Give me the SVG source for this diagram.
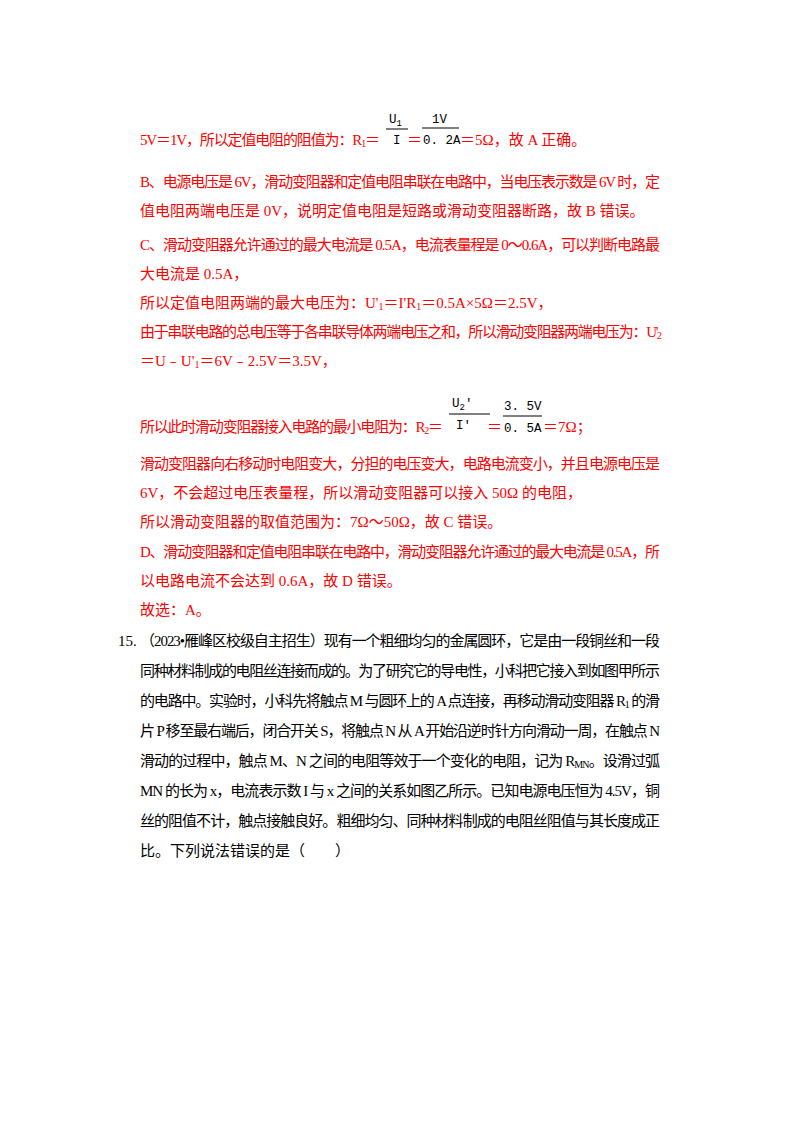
<svg xmlns="http://www.w3.org/2000/svg" width="800" height="1132" viewBox="0 0 800 1132">
<style>
text{font-family:"Liberation Serif","Noto Sans CJK SC",serif;font-size:15px}
.r{fill:#f00}
.k{fill:#000}
.f{font-family:"Liberation Mono","Noto Sans CJK SC",monospace;font-size:12.5px;fill:#000}
line{stroke:#000;stroke-width:1}
</style>
<rect width="800" height="1132" fill="#fff"/>
<g id="solution">
<text class="r" x="140" y="145" textLength="240">5V＝1V，所以定值电阻的阻值为：R<tspan font-size="10" dy="2">1</tspan><tspan dy="-2">＝</tspan></text>
<text class="f" x="389" y="123">U<tspan font-size="9" dy="3">1</tspan></text>
<line x1="386" y1="129" x2="408" y2="129"/>
<text class="f" x="393" y="144">I</text>
<text class="r" x="407" y="145">＝</text>
<text class="f" x="432" y="123">1V</text>
<line x1="422" y1="128" x2="459" y2="128"/>
<text class="f" x="423" y="144">0. 2A</text>
<text class="r" x="460" y="145">＝5Ω，故 A 正确。</text>
<text class="r" x="140" y="187" textLength="520">B、电源电压是 6V，滑动变阻器和定值电阻串联在电路中，当电压表示数是 6V 时，定</text>
<text class="r" x="140" y="216">值电阻两端电压是 0V，说明定值电阻是短路或滑动变阻器断路，故 B 错误。</text>
<text class="r" x="140" y="250" textLength="520">C、滑动变阻器允许通过的最大电流是 0.5A，电流表量程是 0～0.6A，可以判断电路最</text>
<text class="r" x="140" y="279">大电流是 0.5A，</text>
<text class="r" x="140" y="308">所以定值电阻两端的最大电压为：U'<tspan font-size="10" dy="2">1</tspan><tspan dy="-2">＝I'R</tspan><tspan font-size="10" dy="2">1</tspan><tspan dy="-2">＝0.5A×5Ω＝2.5V，</tspan></text>
<text class="r" x="140" y="337" textLength="522">由于串联电路的总电压等于各串联导体两端电压之和，所以滑动变阻器两端电压为：U'<tspan font-size="10" dy="2">2</tspan></text>
<text class="r" x="140" y="366">＝U﹣U'<tspan font-size="10" dy="2">1</tspan><tspan dy="-2">＝6V﹣2.5V＝3.5V，</tspan></text>
<text class="r" x="140" y="432" textLength="303">所以此时滑动变阻器接入电路的最小电阻为：R<tspan font-size="10" dy="2">2</tspan><tspan dy="-2">＝</tspan></text>
<text class="f" x="452" y="407">U<tspan font-size="9" dy="3">2</tspan><tspan dy="-3">′</tspan></text>
<line x1="449" y1="414" x2="490" y2="414"/>
<text class="f" x="456" y="429">I′</text>
<text class="r" x="487" y="432">＝</text>
<text class="f" x="504" y="410">3. 5V</text>
<line x1="503" y1="416" x2="542" y2="416"/>
<text class="f" x="504" y="432">0. 5A</text>
<text class="r" x="543" y="432">＝7Ω；</text>
<text class="r" x="140" y="469" textLength="520">滑动变阻器向右移动时电阻变大，分担的电压变大，电路电流变小，并且电源电压是</text>
<text class="r" x="140" y="498">6V，不会超过电压表量程，所以滑动变阻器可以接入 50Ω 的电阻，</text>
<text class="r" x="140" y="527">所以滑动变阻器的取值范围为：7Ω～50Ω，故 C 错误。</text>
<text class="r" x="140" y="557" textLength="520">D、滑动变阻器和定值电阻串联在电路中，滑动变阻器允许通过的最大电流是 0.5A，所</text>
<text class="r" x="140" y="586">以电路电流不会达到 0.6A，故 D 错误。</text>
<text class="r" x="140" y="615">故选：A。</text>
</g>
<g id="question">
<text class="k" x="118" y="646">15.</text>
<text class="k" x="140" y="646" textLength="520">（2023•雁峰区校级自主招生）现有一个粗细均匀的金属圆环，它是由一段铜丝和一段</text>
<text class="k" x="140" y="676" textLength="520">同种材料制成的电阻丝连接而成的。为了研究它的导电性，小科把它接入到如图甲所示</text>
<text class="k" x="140" y="706" textLength="520">的电路中。实验时，小科先将触点 M 与圆环上的 A 点连接，再移动滑动变阻器 R<tspan font-size="10" dy="2">1</tspan><tspan dy="-2"> 的滑</tspan></text>
<text class="k" x="140" y="736" textLength="520">片 P 移至最右端后，闭合开关 S，将触点 N 从 A 开始沿逆时针方向滑动一周，在触点 N</text>
<text class="k" x="140" y="766" textLength="520">滑动的过程中，触点 M、N 之间的电阻等效于一个变化的电阻，记为 R<tspan font-size="10" dy="2">MN</tspan><tspan dy="-2">。设滑过弧</tspan></text>
<text class="k" x="140" y="796" textLength="520">MN 的长为 x，电流表示数 I 与 x 之间的关系如图乙所示。已知电源电压恒为 4.5V，铜</text>
<text class="k" x="140" y="826" textLength="520">丝的阻值不计，触点接触良好。粗细均匀、同种材料制成的电阻丝阻值与其长度成正</text>
<text class="k" x="140" y="856">比。下列说法错误的是（　　）</text>
</g>
</svg>
